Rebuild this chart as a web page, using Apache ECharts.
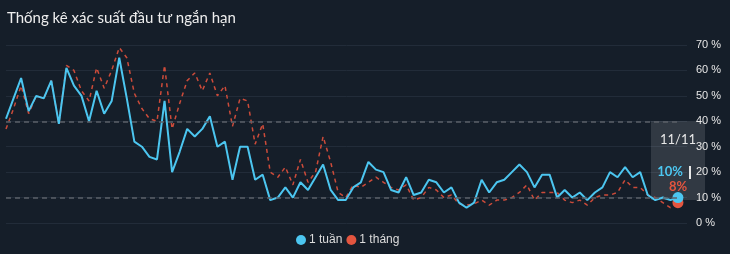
<!DOCTYPE html>
<html><head><meta charset="utf-8">
<script src="https://cdn.jsdelivr.net/npm/echarts@6/dist/echarts.min.js"></script>
<style>html,body{margin:0;padding:0;background:#151e29;}#c{width:730px;height:254px;}</style>
</head><body><div id="c"></div>
<script>
const title = 'Thống kê xác suất đầu tư ngắn hạn';
const seriesNames = ['1 tuần', '1 tháng'];
const lastLabel = '11/11';
const yTicks = [0, 10, 20, 30, 40, 50, 60, 70];
const refLines = [10, 40];
const week = [41,49,57,44,50,49,56,39,61,54,50,40,52,43,48,65,49,32,
  30,26,25,48,20,28,37,34,37,42,30,32,17,30,30,17,19,9,
  10,14,10,16,13,18,23,13,9,9,14,16,24,21,20,13,12,18,
  11,12,17,16,12,14,8,6,8,17,12,16,17,20,23,20,14,19,
  19,10,13,10,12,9,12,14,20,18,22,18,20,11,9,10,9,10];
const month = [37,45,54,43,50,49,56,39,62,60,52,48,61,53,60,69,65,51,
  45,41,40,62,37,47,56,59,52,59,50,54,38,49,48,31,39,20,
  18,22,15,25,16,20,34,24,12,10,15,14,16,18,16,14,13,15,
  9,10,14,13,10,11,7.5,7,7.5,9,7,9,9,10,12,15,9,12,
  12,12,9,8,9,7,10,11,11,12,17,14,14,11,10,8,6,8];

const BLUE = '#4cc6f0', RED = '#e3553f';
const last = week.length - 1;
const chart = echarts.init(document.getElementById('c'));
const dotSize = (v, p) => p.dataIndex === last ? 11 : 0;
chart.setOption({
  backgroundColor: '#151e29',
  animation: false,
  title: { text: title, left: 2, top: 6, textStyle: { color: '#eeeeee', fontSize: 15, fontWeight: 'normal', fontFamily: 'Lato' } },
  legend: { data: seriesNames, bottom: 3, left: 291, icon: 'circle', itemWidth: 10, itemHeight: 10, itemGap: 4,
    textStyle: { color: '#dddddd', fontSize: 12, fontFamily: 'Liberation Sans', padding: [0, 0, 0, -2] } },
  grid: { left: 6, right: 43, top: 45, bottom: 31 },
  xAxis: { type: 'value', min: 0, max: 90.2, show: false },
  yAxis: { type: 'value', position: 'right', min: yTicks[0], max: yTicks[yTicks.length-1], interval: 10,
    axisLine: { show: false }, axisTick: { show: false },
    axisLabel: { formatter: '{value} %', color: '#e6e6e6', fontSize: 11, margin: 9, fontFamily: 'Liberation Sans' },
    splitLine: { lineStyle: { color: '#222c39', width: 1 } } },
  series: [
    { name: seriesNames[1], type: 'line', data: month.map((v, i) => [i, v]), z: 2,
      showSymbol: true, showAllSymbol: true, symbol: 'circle', symbolSize: dotSize,
      itemStyle: { color: RED }, lineStyle: { color: '#cc4b3a', width: 1.5, type: [4, 4] },
      markLine: { silent: true, symbol: 'none', label: { show: false },
        lineStyle: { color: '#5b6068', type: [5, 4], width: 1.5 },
        data: refLines.map(r => [{ coord: [0, r] }, { coord: [last, r] }]) } },
    { name: seriesNames[0], type: 'line', data: week.map((v, i) => [i, v]), z: 3,
      showSymbol: true, showAllSymbol: true, symbol: 'circle', symbolSize: dotSize,
      itemStyle: { color: BLUE }, lineStyle: { color: BLUE, width: 2 } }
  ],
  graphic: [
    { type: 'rect', shape: { x: 651, y: 121, width: 54, height: 79 }, style: { fill: 'rgba(255,255,255,0.12)' }, z: 1 },
    { type: 'text', x: 678, y: 140, style: { text: lastLabel, fill: '#e8e8e8', font: '13px Lato', align: 'center', verticalAlign: 'middle' }, z: 10 },
    { type: 'text', x: 683, y: 172, style: { text: week[last] + '%', fill: BLUE, font: 'bold 13px Lato', align: 'right', verticalAlign: 'middle' }, z: 10 },
    { type: 'rect', shape: { x: 689, y: 166, width: 2, height: 13 }, style: { fill: '#e8e8e8' }, z: 10 },
    { type: 'text', x: 678, y: 187, style: { text: month[last] + '%', fill: RED, font: 'bold 13px Lato', align: 'center', verticalAlign: 'middle' }, z: 10 }
  ]
});
</script></body></html>
